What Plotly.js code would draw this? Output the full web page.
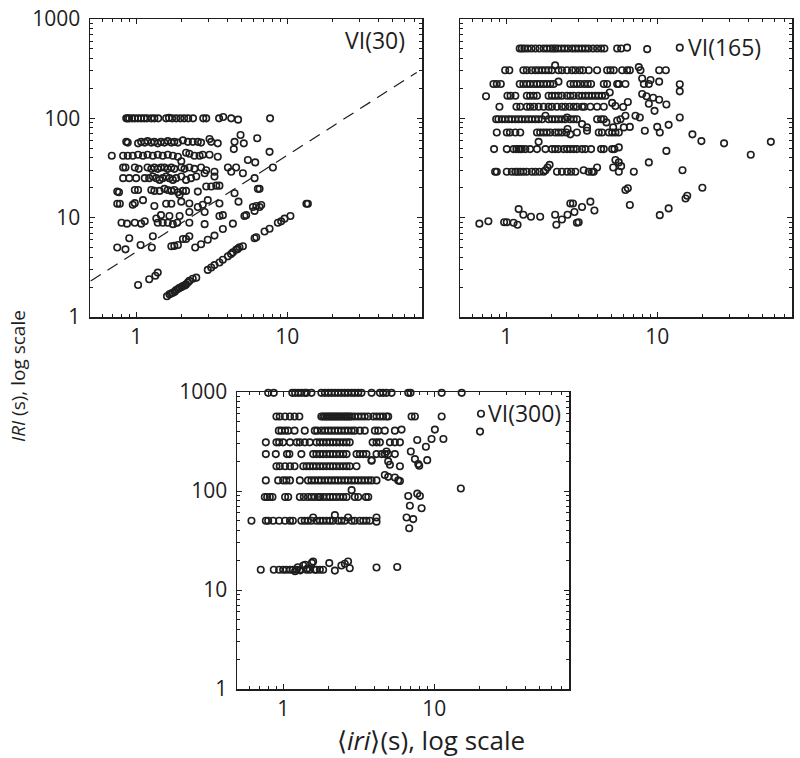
<!DOCTYPE html>
<html>
<head>
<meta charset="utf-8">
<script src="https://cdn.plot.ly/plotly-3.0.1.min.js"></script>
<style>
  body { margin: 0; background: #fff; }
  #chart { width: 800px; height: 758px; }
</style>
</head>
<body>
<div id="chart"></div>
<script type="text/javascript">
// [mean iri (s), IRI (s)] pairs
var vi30 = [
    [0.86,100],[0.88,100],[0.90,100],[0.94,100],[0.98,100],[1.03,100],[1.08,100],[1.13,100],[1.18,100],[1.26,100],[1.32,100],[1.40,100],
    [1.58,100],[1.65,101],[1.73,100],[1.84,100],[1.96,100],[2.08,100],[2.21,100],[2.38,100],[2.78,100],[2.91,100],[3.54,100],[3.77,103],[4.26,100],[4.73,97],[7.7,100],
    [0.86,58],[0.88,57],[1.03,56],[1.08,58],[1.14,57],[1.19,59],[1.26,57],[1.32,58],[1.39,56],[1.46,58],[1.54,57],[1.62,59],[1.71,57],[1.79,58],[1.89,57],[2.04,60],[2.20,58],[2.37,58],[2.56,58],[2.69,57],[3.06,62],[3.14,58],[3.47,56],
    [4.48,58],[4.91,68],[5.16,56],[4.43,49],[6.33,63],[7.64,46],
    [0.69,42],[0.82,42],[0.88,42],[0.95,42],[1.03,43],[1.11,42],[1.19,43],[1.29,42],[1.39,43],[1.50,42],[1.62,43],[1.75,42],[1.89,41],[2.14,45],[2.25,44],[2.43,42],[2.63,42],[2.76,43],[3.06,43],[3.47,41],[1.99,37],
    [0.82,32],[0.85,32],[0.98,32],[1.04,31],[1.19,32],[1.26,31],[1.32,32],[1.39,31],[1.46,32],[1.54,32],[1.62,31],[1.71,32],[1.79,31],[1.99,32],[2.09,31],[2.25,32],[2.43,31],[2.69,32],[2.91,30],[3.30,29],[4.05,32],[4.26,29],[4.59,32],[5.09,28],[5.49,38],[6.14,36],[8.04,32],
    [0.82,25],[0.90,25],[1.00,25],[1.14,25],[1.22,25],[1.29,26],[1.36,25],[1.43,24],[1.50,25],[1.58,26],[1.66,25],[1.75,24],[1.84,25],[1.99,26],[2.14,24],[2.31,25],[2.50,26],[2.84,28],[3.30,26],[6.08,25],
    [0.75,18.3],[0.77,18],[0.98,19],[1.03,19],[1.26,19],[1.32,18.6],[1.43,18.6],[1.54,19.5],[1.62,19],[1.71,18.6],[1.79,19],[1.89,18],[1.94,17],[2.04,18.6],[2.14,18.6],[2.56,18.3],[2.91,20.6],[3.14,20.6],[3.39,21],[3.56,21],[4.48,17.6],[6.39,19.5],[6.56,19.5],
    [0.75,13.8],[0.78,13.8],[0.95,13.5],[0.98,14],[1.11,15],[1.32,13.1],[1.58,13.8],[1.71,13.8],[1.99,14.5],[2.25,13.9],[2.56,12.8],[2.76,13.5],[2.98,15],[3.56,13.9],[4.76,14.5],[5.93,12.8],[6.24,13.1],[6.73,13.4],
    [1.36,9.8],[1.46,10.6],[1.66,10.4],[1.94,10.4],[2.25,11.4],[2.84,11.4],[3.56,10.4],[3.75,10.6],[5.21,10.4],[5.35,10.6],
    [0.80,8.9],[0.87,8.7],[0.98,8.9],[1.08,8.7],[1.14,9.2],[1.39,8.9],[1.50,8.9],[1.62,8.9],[1.75,8.6],[1.87,8.9],[2.25,8.9],[2.84,8.6],
    [0.75,5.0],[0.85,4.8],[0.90,6.2],[1.07,5.3],[1.27,5.0],[1.29,6.5],[1.71,5.15],[1.79,5.2],[1.89,5.3],[2.04,6.1],[2.14,6.1],[2.25,6.5],[2.46,5.0],[2.69,5.4],[2.98,6.0],[3.30,6.6],[3.75,7.7],[4.37,8.7],[6.08,11.7],[6.56,12.8],
    [1.03,2.1],[1.22,2.4],[1.34,2.6],[1.39,2.8],
    [1.60,1.62],[1.66,1.69],[1.70,1.72],[1.75,1.75],[1.80,1.80],[1.84,1.87],[1.90,1.92],[1.94,1.97],[2.00,2.00],[2.04,2.05],[2.10,2.08],[2.14,2.13],[2.20,2.22],[2.25,2.31],[2.37,2.43],[2.50,2.49],
    [2.98,2.98],[3.14,3.15],[3.30,3.33],[3.56,3.54],[3.75,3.77],[4.05,4.08],[4.25,4.30],[4.37,4.48],[4.59,4.76],[4.70,4.85],[4.83,5.03],[5.09,5.15],[6.08,6.21],[6.24,6.36],[7.08,7.26],[7.64,7.73],[8.67,8.9],[9.12,9.18],[9.60,9.77],[10.5,10.4],[13.4,13.8],[13.7,13.8]
];

var vi165 = [
    [1.23,505],[1.27,505],[1.32,505],[1.39,505],[1.47,505],[1.56,505],[1.66,505],[1.77,505],[1.86,505],[1.96,505],[2.04,505],[2.11,505],[2.20,505],[2.32,505],[2.44,505],[2.57,505],[2.73,505],[2.87,505],[3.02,505],[3.18,505],[3.35,505],[3.52,505],[3.76,505],[4.00,505],[4.25,505],[4.47,505],[5.43,505],[5.77,505],[6.32,515],[8.58,497],[14.1,515],
    [0.985,305],[1.05,305],[1.30,305],[1.37,305],[1.47,305],[1.56,305],[1.64,305],[1.73,305],[1.82,305],[1.91,305],[2.01,305],[2.11,341],[2.22,305],[2.34,305],[2.53,305],[2.73,305],[2.87,305],[3.07,305],[3.23,305],[3.52,305],[4.00,305],[4.66,305],[4.90,305],[5.16,305],[5.86,305],[6.32,305],[6.59,305],[7.55,328],[7.75,305],[10.3,305],[11.4,305],
    [0.824,222],[0.867,222],[0.922,222],[1.23,222],[1.30,222],[1.37,222],[1.44,222],[1.52,222],[1.60,222],[1.68,222],[1.77,222],[1.86,222],[1.96,222],[2.06,222],[2.22,234],[2.66,222],[2.80,222],[2.94,222],[3.10,222],[3.29,222],[3.47,222],[3.65,222],[4.43,222],[4.66,222],[5.43,222],[5.57,222],[6.16,222],[7.95,252],[8.16,222],[8.80,222],[9.03,243],[10.3,234],[14.1,220],[14.1,187],
    [0.736,167],[1.02,169],[1.07,169],[1.15,169],[1.37,169],[1.44,169],[1.52,169],[1.60,169],[1.91,169],[2.01,169],[2.11,169],[2.22,169],[2.34,169],[2.53,169],[2.66,169],[2.80,169],[3.02,169],[3.18,169],[3.35,169],[3.52,169],[3.70,169],[3.90,169],[4.10,169],[4.31,169],[4.54,169],[4.85,182],[7.95,176],[8.49,167],[9.40,161],[10.3,154],
    [0.903,131],[1.17,131],[1.24,131],[1.37,131],[1.44,131],[1.53,131],[1.64,131],[1.77,131],[1.91,131],[2.01,131],[2.17,131],[2.34,131],[2.46,131],[2.63,131],[2.80,131],[2.94,131],[3.18,131],[3.29,131],[3.61,131],[4.00,131],[4.43,131],[5.03,143],[5.29,133],[5.95,130],[6.39,146],[8.80,140],[9.60,119],[11.5,138],
    [0.859,98],[0.889,98],[0.936,98],[0.985,98],[1.04,98],[1.09,98],[1.15,98],[1.21,98],[1.27,98],[1.34,98],[1.41,98],[1.48,98],[1.56,98],[1.64,98],[1.73,98],[1.82,106],[1.91,98],[2.01,98],[2.11,98],[2.22,98],[2.34,98],[2.46,98],[2.53,102],[2.66,98],[2.80,98],[2.94,98],[3.18,87.5],[3.43,81],[4.00,98],[4.25,98],[4.43,98],[4.61,91],[5.11,81],[5.43,95],[5.71,98],[6.16,106],[7.18,106],[7.67,102],[14.1,102],
    [0.867,72],[1.01,72],[1.06,72],[1.15,72],[1.24,72],[1.60,72],[1.68,72],[1.77,72],[1.86,72],[1.96,72],[2.11,72],[2.22,72],[2.34,72],[2.50,72],[2.55,78],[2.66,69],[2.94,72],[3.43,75],[4.10,72],[4.31,72],[4.78,72],[5.03,72],[5.29,72],[5.57,72],[6.01,81],[6.59,82],[8.28,75],[10.0,82],[10.4,72],[11.9,86],[17.1,69],[19.6,59],[27.7,56],[41.6,43],[56.5,58],
    [0.832,49],[1.01,49],[1.12,49],[1.17,49],[1.21,49],[1.24,49],[1.27,49],[1.34,49],[1.44,49],[1.64,58],[1.60,49],[1.82,49],[2.01,49],[2.11,49],[2.22,49],[2.40,49],[2.53,49],[2.66,49],[2.80,49],[2.94,49],[3.18,49],[3.35,49],[3.65,49],[4.25,49],[4.43,49],[5.03,49],[5.21,49],[5.57,51],[5.29,38],[5.57,36],[5.77,33],[7.00,29],[8.80,36],[11.5,47],[14.7,30],
    [0.845,29],[0.867,29],[1.01,29],[1.09,29],[1.15,29],[1.19,29],[1.24,29],[1.30,29],[1.37,29],[1.48,29],[1.56,29],[1.66,29],[1.77,29],[1.82,30],[1.88,32],[1.94,34],[2.17,29],[2.34,29],[2.53,29],[2.69,29],[2.87,29],[3.26,30],[3.52,29],[3.70,29],[3.80,29],[4.00,32],[5.11,32],[5.57,29],
    [6.16,19],[6.39,19.8],[6.59,13.4],[10.4,10.6],[11.9,12.4],[15.4,15.6],[15.8,16.6],[19.9,20],
    [0.665,8.7],[0.763,9.2],[0.970,9.0],[1.01,9.0],[1.12,8.9],[1.19,8.5],[1.21,12.2],[1.30,10.7],[1.46,10.2],[1.68,10.2],[2.11,10.7],[2.15,8.5],[2.34,9.6],[2.55,10.7],[2.66,13.9],[2.77,13.9],[2.83,11.4],[2.94,8.9],[3.02,9.0],[3.18,12.8],[3.61,14.5],[3.84,11.8]
];

var vi300 = [
    [0.796,980],[0.867,980],[1.15,980],[1.20,980],[1.26,980],[1.32,980],[1.39,980],[1.43,980],[1.54,980],[1.79,980],[1.89,980],[1.99,980],[2.09,980],[2.20,980],[2.31,980],[2.43,980],[2.56,980],[2.69,980],[2.84,980],[2.98,980],[3.14,980],[3.30,980],[3.85,980],[4.37,980],[4.59,980],[4.83,980],[5.22,980],[6.73,980],[6.97,980],[11.2,980],[15.2,980],
    [0.903,566],[0.950,566],[1.03,566],[1.11,566],[1.19,566],[1.28,566],[1.79,566],[1.84,566],[1.89,566],[1.94,566],[1.99,566],[2.04,566],[2.09,566],[2.14,566],[2.20,566],[2.25,566],[2.31,566],[2.37,566],[2.43,566],[2.50,566],[2.56,566],[2.63,566],[2.69,566],[2.76,566],[2.84,566],[2.98,566],[3.14,566],[3.30,566],[3.47,566],[3.66,566],[3.95,566],[4.15,566],[4.37,566],[4.59,566],[4.83,566],[4.96,566],[7.08,566],[7.45,566],[11.2,566],[20.4,602],
    [0.936,407],[0.975,407],[1.03,407],[1.08,407],[1.19,407],[1.39,407],[1.62,407],[1.68,407],[1.79,407],[1.89,407],[1.99,407],[2.09,407],[2.20,407],[2.31,407],[2.43,407],[2.56,407],[2.69,407],[2.84,407],[2.98,407],[3.22,407],[3.47,407],[4.05,407],[4.26,407],[4.71,407],[5.49,407],[6.08,417],[10.1,417],[20.1,398],
    [0.768,310],[0.903,310],[0.941,310],[1.00,310],[1.11,310],[1.23,310],[1.29,310],[1.39,310],[1.50,310],[1.66,310],[1.75,310],[1.84,310],[1.94,310],[2.04,310],[2.14,310],[2.25,310],[2.37,310],[2.50,310],[2.63,310],[2.76,310],[3.91,310],[4.15,310],[4.37,310],[5.09,310],[5.49,310],[5.93,310],[7.72,327],[9.60,335],[11.5,335],
    [0.768,236],[0.894,236],[1.06,236],[1.10,236],[1.32,236],[1.58,236],[1.66,236],[1.75,236],[1.84,236],[1.94,236],[2.04,236],[2.14,236],[2.25,236],[2.37,236],[2.50,236],[2.63,236],[3.06,236],[3.22,236],[3.39,236],[3.56,236],[3.85,205],[4.15,236],[4.48,236],[4.71,236],[4.83,251],[4.96,236],[5.49,236],[7.00,251],[8.81,280],
    [0.903,178],[0.950,178],[1.03,178],[1.11,178],[1.19,178],[1.36,178],[1.43,178],[1.50,178],[1.58,178],[1.66,178],[1.75,178],[1.84,178],[1.94,178],[2.04,178],[2.14,178],[2.25,178],[2.37,178],[2.50,178],[2.63,178],[2.76,178],[3.06,178],[3.85,202],[4.96,199],[5.09,184],[5.93,178],[7.45,210],[7.84,187],[7.96,180],[8.99,205],
    [0.768,128],[0.927,128],[1.00,128],[1.05,128],[1.11,128],[1.29,128],[1.46,128],[1.54,128],[1.62,128],[1.71,128],[1.79,128],[1.89,128],[1.99,128],[2.09,128],[2.20,128],[2.31,128],[2.43,128],[2.56,128],[2.69,128],[2.84,128],[2.98,128],[3.14,128],[3.30,128],[3.47,128],[3.66,128],[3.85,128],[4.15,128],[4.71,145],[4.96,139],[5.49,137],[5.78,128],[5.93,126],[15.0,106],
    [0.756,87],[0.784,87],[0.816,87],[0.850,87],[1.03,87],[1.08,87],[1.29,87],[1.37,87],[1.46,87],[1.54,87],[1.62,87],[1.71,87],[1.75,87],[1.84,87],[1.94,87],[2.04,87],[2.14,87],[2.25,87],[2.37,87],[2.50,87],[2.63,87],[2.84,102],[2.98,87],[3.14,87],[3.53,87],[3.66,87],[6.73,89],[6.90,71],[7.72,94],[8.04,89],[8.25,67],
    [0.617,50],[0.768,50],[0.796,50],[0.859,50],[0.941,50],[1.03,50],[1.11,50],[1.16,50],[1.32,50],[1.39,50],[1.46,50],[1.54,50],[1.58,54],[1.66,50],[1.75,50],[1.84,50],[1.94,50],[2.04,50],[2.14,50],[2.20,57],[2.31,50],[2.43,50],[2.56,50],[2.69,54],[2.84,50],[2.98,50],[3.22,50],[3.39,50],[3.56,50],[3.75,50],[4.15,54],[4.15,49],[6.56,54],[7.26,52],[6.83,42],
    [0.711,16],[0.867,16],[0.941,16],[1.00,16],[1.05,16],[1.11,16],[1.16,16],[1.20,15.5],[1.23,16],[1.25,17],[1.29,16],[1.30,15.8],[1.36,17.7],[1.40,18],[1.43,16],[1.45,16.5],[1.50,16],[1.55,18.8],[1.58,19.4],[1.62,16],[1.66,16],[1.75,16],[1.84,16],[2.02,18.7],[2.20,15.7],[2.43,17.7],[2.56,18.4],[2.69,19.4],[2.76,16.6],[4.15,16.9],[5.69,17.1]
];

// dashed reference line in the VI(30) panel
var refX = [0.5, 72];
var refY = [2.3, 290];

var xTickVals = [1, 10];
var xTickText = ['1', '10'];
var xMinorVals = [0.5, 0.6, 0.7, 0.8, 0.9, 2, 3, 4, 5, 6, 7, 8, 9, 20, 30, 40, 50, 60, 70];
var yTickVals = [1, 10, 100, 1000];
var yTickText = ['1', '10', '100', '1000'];
var yMinorVals = [2, 3, 4, 5, 6, 7, 8, 9, 20, 30, 40, 50, 60, 70, 80, 90, 200, 300, 400, 500, 600, 700, 800, 900];

var ink = '#1e1e1e';
var tickFont = {family: 'Open Sans, sans-serif', size: 21, color: ink};

function col(pairs, i) {
    return pairs.map(function (p) { return p[i]; });
}

function points(pairs, xa, ya) {
    return {
        x: col(pairs, 0),
        y: col(pairs, 1),
        xaxis: xa,
        yaxis: ya,
        mode: 'markers',
        type: 'scatter',
        marker: {
            symbol: 'circle-open',
            size: 6.5,
            color: ink,
            line: {color: ink, width: 1.6},
        },
        hoverinfo: 'none',
        cliponaxis: false,
    };
}

function axis(domain, anchor, vals, text, minorVals, range, labels, standoff) {
    return {
        type: 'log',
        domain: domain,
        anchor: anchor,
        range: range,
        autorange: false,
        showline: true,
        linecolor: ink,
        linewidth: 1.5,
        mirror: 'allticks',
        ticks: 'inside',
        ticklen: 5,
        tickwidth: 1,
        tickcolor: ink,
        tickmode: 'array',
        tickvals: vals,
        ticktext: text,
        showticklabels: labels,
        tickfont: tickFont,
        ticklabelstandoff: standoff,
        showgrid: false,
        zeroline: false,
        minor: {
            tickmode: 'array',
            tickvals: minorVals,
            ticks: 'inside',
            ticklen: 3,
            tickwidth: 1,
            tickcolor: ink,
            showgrid: false,
        },
    };
}

document.addEventListener('DOMContentLoaded', function () {
    var xr = [Math.log10(0.495), Math.log10(78)];
    var yr = [0, 3];

    var ref = {
        x: refX,
        y: refY,
        xaxis: 'x',
        yaxis: 'y',
        mode: 'lines',
        type: 'scatter',
        line: {color: ink, width: 1.2, dash: '12px,8px'},
        hoverinfo: 'none',
    };

    var data = [ref, points(vi30, 'x', 'y'), points(vi165, 'x2', 'y2'), points(vi300, 'x3', 'y3')];

    var topY = [1 - 317 / 758, 1 - 19 / 758];
    var botY = [1 - 689 / 758, 1 - 392 / 758];

    var layout = {
        width: 800,
        height: 758,
        margin: {l: 0, r: 0, t: 0, b: 0},
        paper_bgcolor: '#fff',
        plot_bgcolor: '#fff',
        showlegend: false,
        xaxis: axis([90 / 800, 422 / 800], 'y', xTickVals, xTickText, xMinorVals, xr, true, 0),
        yaxis: axis(topY, 'x', yTickVals, yTickText, yMinorVals, yr, true, 4),
        xaxis2: axis([460 / 800, 792 / 800], 'y2', xTickVals, xTickText, xMinorVals, xr, true, 0),
        yaxis2: axis(topY, 'x2', yTickVals, yTickText, yMinorVals, yr, false, 4),
        xaxis3: axis([237 / 800, 569 / 800], 'y3', xTickVals, xTickText, xMinorVals, xr, true, 0),
        yaxis3: axis(botY, 'x3', yTickVals, yTickText, yMinorVals, yr, true, 4),
        annotations: [
            {text: 'VI(30)', x: 407 / 800, y: 1 - 40 / 758, xref: 'paper', yref: 'paper',
             xanchor: 'right', yanchor: 'middle', showarrow: false,
             font: {family: 'Open Sans, sans-serif', size: 23, color: ink}},
            {text: 'VI(165)', x: 763 / 800, y: 1 - 47 / 758, xref: 'paper', yref: 'paper',
             xanchor: 'right', yanchor: 'middle', showarrow: false,
             font: {family: 'Open Sans, sans-serif', size: 23, color: ink}},
            {text: 'VI(300)', x: 563 / 800, y: 1 - 413 / 758, xref: 'paper', yref: 'paper',
             xanchor: 'right', yanchor: 'middle', showarrow: false,
             font: {family: 'Open Sans, sans-serif', size: 23, color: ink}},
            {text: '<i>IRI</i> (s), log scale', x: 18 / 800, y: 1 - 376 / 758, xref: 'paper', yref: 'paper',
             xanchor: 'center', yanchor: 'middle', textangle: -90, showarrow: false,
             font: {family: 'Open Sans, sans-serif', size: 19, color: ink}},
            {text: '\u27e8<i>iri</i>\u27e9(s), log scale', x: 431 / 800, y: 1 - 740 / 758, xref: 'paper', yref: 'paper',
             xanchor: 'center', yanchor: 'middle', showarrow: false,
             font: {family: 'Open Sans, sans-serif', size: 26, color: ink}},
        ],
    };

    Plotly.newPlot(document.getElementById('chart'), data, layout, {displayModeBar: false, staticPlot: true});
});
</script>
</body>
</html>
